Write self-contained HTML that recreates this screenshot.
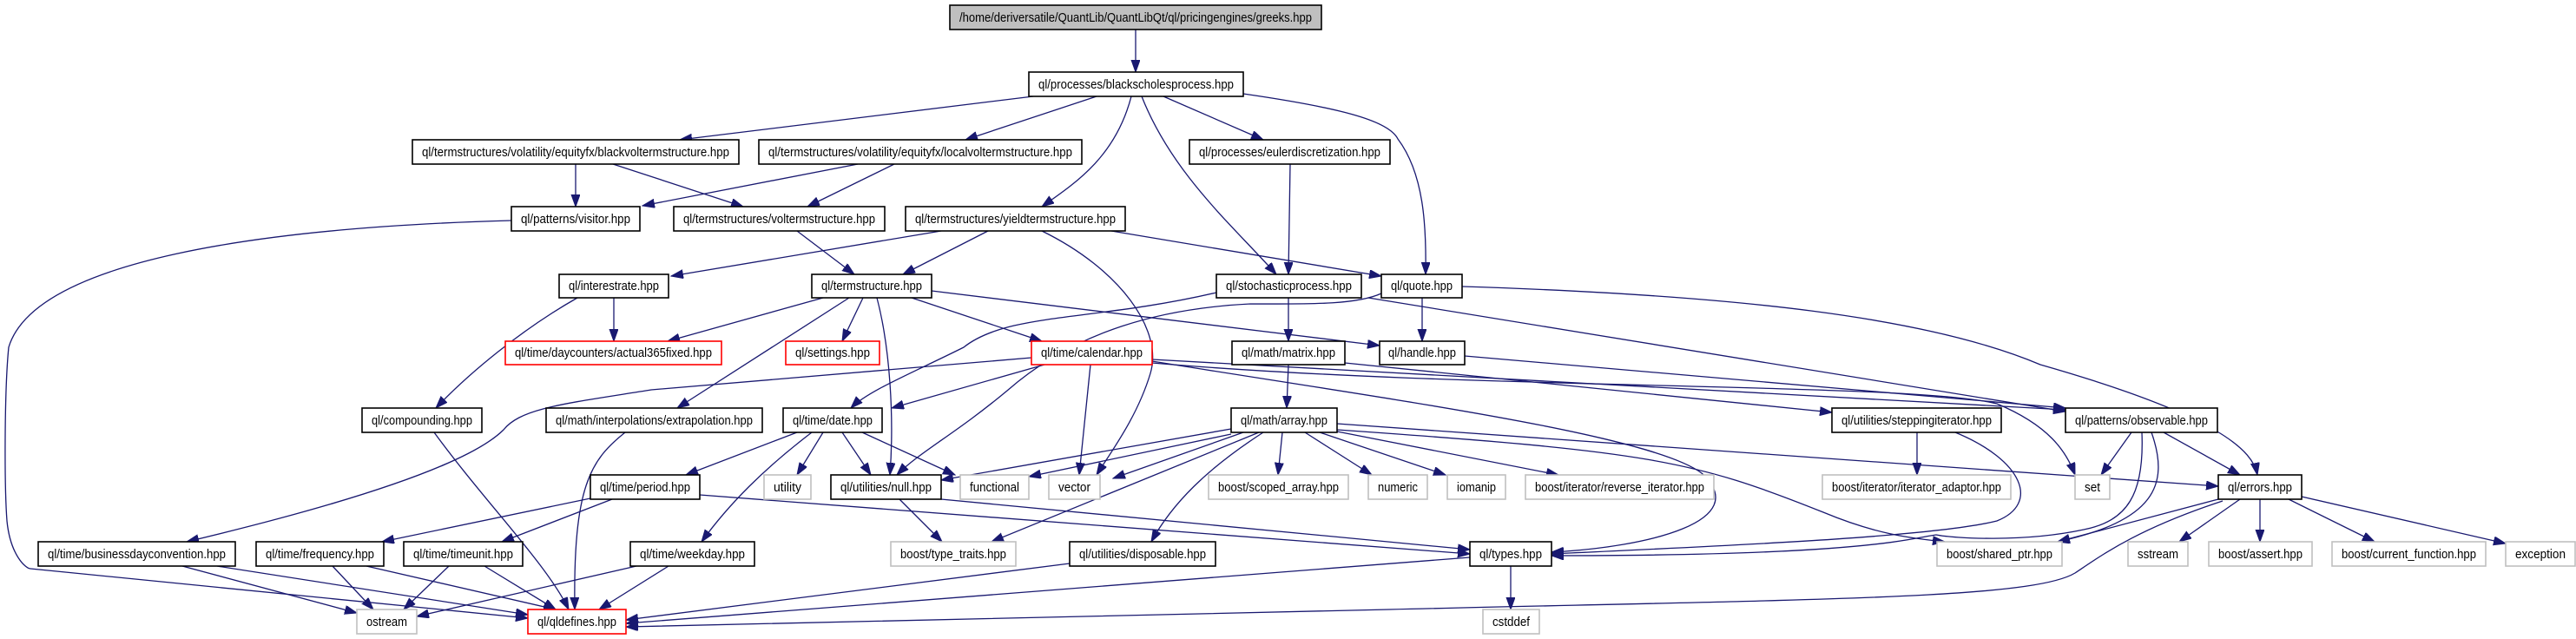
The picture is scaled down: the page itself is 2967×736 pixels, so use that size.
<!DOCTYPE html>
<html><head><meta charset="utf-8">
<style>
html,body{margin:0;padding:0;background:#fff;}
svg{display:block;}
text{font-family:"Liberation Sans",sans-serif;font-size:15px;fill:#000;}
.n{fill:#fff;stroke:#000;stroke-width:1.6;}
.r{fill:#fff;stroke:#ff0000;stroke-width:1.6;}
.g{fill:#fff;stroke:#bfbfbf;stroke-width:1.6;}
.e{fill:none;stroke:#191970;stroke-width:1.3;marker-end:url(#a);}
</style></head>
<body>
<svg width="2967" height="736" viewBox="0 0 2967 736" xmlns="http://www.w3.org/2000/svg">
<defs>
<marker id="a" markerWidth="15" markerHeight="11" refX="14" refY="5" orient="auto" markerUnits="userSpaceOnUse">
<path d="M0,0 L14,5 L0,10 Z" fill="#191970" stroke="#191970"/>
</marker>
</defs>

<path class="e" d="M1308,34 L1308,83"/>
<path class="e" d="M1190,111 L783,161"/>
<path class="e" d="M1263,111 L1112,161"/>
<path class="e" d="M1303,111 C1285,180 1240,210 1200,238"/>
<path class="e" d="M1315,111 C1350,200 1420,260 1470,316"/>
<path class="e" d="M1340,111 L1455,161"/>
<path class="e" d="M1432,108 C1550,125 1600,140 1610,160 C1640,200 1643,260 1642,316"/>
<path class="e" d="M663,189 L663,238"/>
<path class="e" d="M706,189 L856,238"/>
<path class="e" d="M988,189 L740,237"/>
<path class="e" d="M1030,189 L930,238"/>
<path class="e" d="M1486,189 L1484,316"/>
<path class="e" d="M589,254 C300,262 40,300 10,400 C5,450 5,560 8,600 C12,640 30,655 35,655 L608,712"/>
<path class="e" d="M918,266 L984,316"/>
<path class="e" d="M1084,266 L773,318"/>
<path class="e" d="M1138,266 L1040,316"/>
<path class="e" d="M1200,266 C1290,310 1340,380 1325,430 C1310,480 1280,520 1263,547"/>
<path class="e" d="M1280,266 L1591,318"/>
<path class="e" d="M948,343 L769,393"/>
<path class="e" d="M978,343 L780,470"/>
<path class="e" d="M994,343 L970,393"/>
<path class="e" d="M1010,343 C1025,400 1030,480 1025,547"/>
<path class="e" d="M1050,343 L1200,393"/>
<path class="e" d="M1073,335 L1589,398"/>
<path class="e" d="M1401,337 C1260,370 1160,360 1110,400 C1050,430 1000,450 980,470"/>
<path class="e" d="M1591,338 C1560,352 1500,350 1440,350 C1340,355 1240,380 1160,450 C1100,500 1060,520 1033,547"/>
<path class="e" d="M1484,343 L1484,393"/>
<path class="e" d="M1576,343 L2379,474"/>
<path class="e" d="M1638,343 L1638,393"/>
<path class="e" d="M1684,330 C2000,340 2220,365 2350,420 C2560,480 2595,520 2600,547"/>
<path class="e" d="M707,343 L707,393"/>
<path class="e" d="M665,343 C600,380 540,430 502,470"/>
<path class="e" d="M500,498 C560,580 630,650 655,702"/>
<path class="e" d="M720,498 C680,530 660,560 662,702"/>
<path class="e" d="M1188,412 L750,449 C650,465 600,470 580,495 C540,535 400,580 215,624"/>
<path class="e" d="M1203,420 L1027,470"/>
<path class="e" d="M1256,420 L1243,547"/>
<path class="e" d="M1327,414 L2379,472"/>
<path class="e" d="M1327,418 C1700,450 2200,440 2300,465 C2360,490 2380,520 2390,547"/>
<path class="e" d="M1327,416 C1600,460 1900,500 1960,545 C2020,600 1900,630 1787,636"/>
<path class="e" d="M1549,418 L2110,475"/>
<path class="e" d="M1687,410 L2379,470"/>
<path class="e" d="M1484,420 L1482,470"/>
<path class="e" d="M918,498 L790,547"/>
<path class="e" d="M935,498 C880,540 840,580 808,624"/>
<path class="e" d="M948,498 L918,547"/>
<path class="e" d="M970,498 L1003,547"/>
<path class="e" d="M993,498 L1100,547"/>
<path class="e" d="M1418,494 L1084,553"/>
<path class="e" d="M1418,500 L1185,549"/>
<path class="e" d="M1432,498 L1282,551"/>
<path class="e" d="M1450,498 L1142,624"/>
<path class="e" d="M1455,498 C1390,540 1350,580 1326,624"/>
<path class="e" d="M1477,498 L1472,547"/>
<path class="e" d="M1503,498 L1580,547"/>
<path class="e" d="M1520,498 L1665,547"/>
<path class="e" d="M1540,497 L1795,547"/>
<path class="e" d="M1540,488 L2555,560"/>
<path class="e" d="M1540,495 C1900,520 1950,530 2100,590 C2160,615 2200,620 2240,624"/>
<path class="e" d="M1036,575 L1085,624"/>
<path class="e" d="M1084,575 L1693,633"/>
<path class="e" d="M680,574 L440,624"/>
<path class="e" d="M705,575 L578,624"/>
<path class="e" d="M806,570 L1693,638"/>
<path class="e" d="M210,652 L411,706"/>
<path class="e" d="M250,652 L608,708"/>
<path class="e" d="M383,652 L430,702"/>
<path class="e" d="M422,652 L640,702"/>
<path class="e" d="M517,652 L465,702"/>
<path class="e" d="M558,652 L640,702"/>
<path class="e" d="M733,652 L480,710"/>
<path class="e" d="M770,652 L690,702"/>
<path class="e" d="M1232,649 L721,714"/>
<path class="e" d="M1693,642 L721,718"/>
<path class="e" d="M2560,577 C2460,610 2420,640 2390,660 C2340,690 2100,690 1600,702 L721,722"/>
<path class="e" d="M1740,652 L1740,702"/>
<path class="e" d="M2208,498 L2208,547"/>
<path class="e" d="M2252,498 C2330,530 2350,580 2300,600 C2220,620 1950,630 1787,638"/>
<path class="e" d="M2455,498 L2420,547"/>
<path class="e" d="M2467,498 C2470,570 2450,600 2400,610 C2330,625 2250,620 2230,616 C2200,620 2150,640 1787,640"/>
<path class="e" d="M2478,498 C2500,560 2480,600 2370,624"/>
<path class="e" d="M2492,498 L2580,547"/>
<path class="e" d="M2555,575 L2370,624"/>
<path class="e" d="M2580,575 L2510,624"/>
<path class="e" d="M2603,575 L2603,624"/>
<path class="e" d="M2636,575 L2735,624"/>
<path class="e" d="M2651,572 L2886,626"/>

<rect x="1094" y="6" width="428" height="28" fill="#bfbfbf" stroke="#000" stroke-width="1.6"/><text x="1308" y="25" text-anchor="middle" textLength="406" lengthAdjust="spacingAndGlyphs">/home/deriversatile/QuantLib/QuantLibQt/ql/pricingengines/greeks.hpp</text>
<rect class="n" x="1185" y="83" width="247" height="28"/><text x="1308.5" y="102" text-anchor="middle" textLength="225" lengthAdjust="spacingAndGlyphs">ql/processes/blackscholesprocess.hpp</text>
<rect class="n" x="475" y="161" width="376" height="28"/><text x="663" y="180" text-anchor="middle" textLength="354" lengthAdjust="spacingAndGlyphs">ql/termstructures/volatility/equityfx/blackvoltermstructure.hpp</text>
<rect class="n" x="874" y="161" width="372" height="28"/><text x="1060" y="180" text-anchor="middle" textLength="350" lengthAdjust="spacingAndGlyphs">ql/termstructures/volatility/equityfx/localvoltermstructure.hpp</text>
<rect class="n" x="1370" y="161" width="231" height="28"/><text x="1485.5" y="180" text-anchor="middle" textLength="209" lengthAdjust="spacingAndGlyphs">ql/processes/eulerdiscretization.hpp</text>
<rect class="n" x="589" y="238" width="148" height="28"/><text x="663" y="257" text-anchor="middle" textLength="126" lengthAdjust="spacingAndGlyphs">ql/patterns/visitor.hpp</text>
<rect class="n" x="776" y="238" width="243" height="28"/><text x="897.5" y="257" text-anchor="middle" textLength="221" lengthAdjust="spacingAndGlyphs">ql/termstructures/voltermstructure.hpp</text>
<rect class="n" x="1043" y="238" width="253" height="28"/><text x="1169.5" y="257" text-anchor="middle" textLength="231" lengthAdjust="spacingAndGlyphs">ql/termstructures/yieldtermstructure.hpp</text>
<rect class="n" x="644" y="316" width="126" height="27"/><text x="707" y="334" text-anchor="middle" textLength="104" lengthAdjust="spacingAndGlyphs">ql/interestrate.hpp</text>
<rect class="n" x="935" y="316" width="138" height="27"/><text x="1004" y="334" text-anchor="middle" textLength="116" lengthAdjust="spacingAndGlyphs">ql/termstructure.hpp</text>
<rect class="n" x="1401" y="316" width="167" height="27"/><text x="1484.5" y="334" text-anchor="middle" textLength="145" lengthAdjust="spacingAndGlyphs">ql/stochasticprocess.hpp</text>
<rect class="n" x="1591" y="316" width="93" height="27"/><text x="1637.5" y="334" text-anchor="middle" textLength="71" lengthAdjust="spacingAndGlyphs">ql/quote.hpp</text>
<rect class="r" x="582" y="393" width="249" height="27"/><text x="706.5" y="411" text-anchor="middle" textLength="227" lengthAdjust="spacingAndGlyphs">ql/time/daycounters/actual365fixed.hpp</text>
<rect class="r" x="905" y="393" width="108" height="27"/><text x="959" y="411" text-anchor="middle" textLength="86" lengthAdjust="spacingAndGlyphs">ql/settings.hpp</text>
<rect class="r" x="1188" y="393" width="139" height="27"/><text x="1257.5" y="411" text-anchor="middle" textLength="117" lengthAdjust="spacingAndGlyphs">ql/time/calendar.hpp</text>
<rect class="n" x="1419" y="393" width="130" height="27"/><text x="1484" y="411" text-anchor="middle" textLength="108" lengthAdjust="spacingAndGlyphs">ql/math/matrix.hpp</text>
<rect class="n" x="1589" y="393" width="98" height="27"/><text x="1638" y="411" text-anchor="middle" textLength="78" lengthAdjust="spacingAndGlyphs">ql/handle.hpp</text>
<rect class="n" x="417" y="470" width="138" height="28"/><text x="486" y="489" text-anchor="middle" textLength="116" lengthAdjust="spacingAndGlyphs">ql/compounding.hpp</text>
<rect class="n" x="629" y="470" width="249" height="28"/><text x="753.5" y="489" text-anchor="middle" textLength="227" lengthAdjust="spacingAndGlyphs">ql/math/interpolations/extrapolation.hpp</text>
<rect class="n" x="902" y="470" width="114" height="28"/><text x="959" y="489" text-anchor="middle" textLength="92" lengthAdjust="spacingAndGlyphs">ql/time/date.hpp</text>
<rect class="n" x="1418" y="470" width="122" height="28"/><text x="1479" y="489" text-anchor="middle" textLength="100" lengthAdjust="spacingAndGlyphs">ql/math/array.hpp</text>
<rect class="n" x="2110" y="470" width="195" height="28"/><text x="2207.5" y="489" text-anchor="middle" textLength="173" lengthAdjust="spacingAndGlyphs">ql/utilities/steppingiterator.hpp</text>
<rect class="n" x="2379" y="470" width="175" height="28"/><text x="2466.5" y="489" text-anchor="middle" textLength="153" lengthAdjust="spacingAndGlyphs">ql/patterns/observable.hpp</text>
<rect class="n" x="680" y="547" width="126" height="28"/><text x="743" y="566" text-anchor="middle" textLength="104" lengthAdjust="spacingAndGlyphs">ql/time/period.hpp</text>
<rect class="g" x="880" y="547" width="54" height="28"/><text x="907" y="566" text-anchor="middle" textLength="32" lengthAdjust="spacingAndGlyphs">utility</text>
<rect class="n" x="957" y="547" width="127" height="28"/><text x="1020.5" y="566" text-anchor="middle" textLength="105" lengthAdjust="spacingAndGlyphs">ql/utilities/null.hpp</text>
<rect class="g" x="1106" y="547" width="79" height="28"/><text x="1145.5" y="566" text-anchor="middle" textLength="57" lengthAdjust="spacingAndGlyphs">functional</text>
<rect class="g" x="1208" y="547" width="59" height="28"/><text x="1237.5" y="566" text-anchor="middle" textLength="37" lengthAdjust="spacingAndGlyphs">vector</text>
<rect class="g" x="1392" y="547" width="161" height="28"/><text x="1472.5" y="566" text-anchor="middle" textLength="139" lengthAdjust="spacingAndGlyphs">boost/scoped_array.hpp</text>
<rect class="g" x="1576" y="547" width="68" height="28"/><text x="1610" y="566" text-anchor="middle" textLength="46" lengthAdjust="spacingAndGlyphs">numeric</text>
<rect class="g" x="1667" y="547" width="67" height="28"/><text x="1700.5" y="566" text-anchor="middle" textLength="45" lengthAdjust="spacingAndGlyphs">iomanip</text>
<rect class="g" x="1757" y="547" width="217" height="28"/><text x="1865.5" y="566" text-anchor="middle" textLength="195" lengthAdjust="spacingAndGlyphs">boost/iterator/reverse_iterator.hpp</text>
<rect class="g" x="2099" y="547" width="217" height="28"/><text x="2207.5" y="566" text-anchor="middle" textLength="195" lengthAdjust="spacingAndGlyphs">boost/iterator/iterator_adaptor.hpp</text>
<rect class="g" x="2390" y="547" width="40" height="28"/><text x="2410" y="566" text-anchor="middle" textLength="18" lengthAdjust="spacingAndGlyphs">set</text>
<rect class="n" x="2555" y="547" width="96" height="28"/><text x="2603" y="566" text-anchor="middle" textLength="74" lengthAdjust="spacingAndGlyphs">ql/errors.hpp</text>
<rect class="n" x="44" y="624" width="227" height="28"/><text x="157.5" y="643" text-anchor="middle" textLength="205" lengthAdjust="spacingAndGlyphs">ql/time/businessdayconvention.hpp</text>
<rect class="n" x="295" y="624" width="147" height="28"/><text x="368.5" y="643" text-anchor="middle" textLength="125" lengthAdjust="spacingAndGlyphs">ql/time/frequency.hpp</text>
<rect class="n" x="465" y="624" width="137" height="28"/><text x="533.5" y="643" text-anchor="middle" textLength="115" lengthAdjust="spacingAndGlyphs">ql/time/timeunit.hpp</text>
<rect class="n" x="726" y="624" width="143" height="28"/><text x="797.5" y="643" text-anchor="middle" textLength="121" lengthAdjust="spacingAndGlyphs">ql/time/weekday.hpp</text>
<rect class="g" x="1026" y="624" width="144" height="28"/><text x="1098" y="643" text-anchor="middle" textLength="122" lengthAdjust="spacingAndGlyphs">boost/type_traits.hpp</text>
<rect class="n" x="1232" y="624" width="168" height="28"/><text x="1316" y="643" text-anchor="middle" textLength="146" lengthAdjust="spacingAndGlyphs">ql/utilities/disposable.hpp</text>
<rect class="n" x="1693" y="624" width="94" height="28"/><text x="1740" y="643" text-anchor="middle" textLength="72" lengthAdjust="spacingAndGlyphs">ql/types.hpp</text>
<rect class="g" x="2231" y="624" width="144" height="28"/><text x="2303" y="643" text-anchor="middle" textLength="122" lengthAdjust="spacingAndGlyphs">boost/shared_ptr.hpp</text>
<rect class="g" x="2451" y="624" width="69" height="28"/><text x="2485.5" y="643" text-anchor="middle" textLength="47" lengthAdjust="spacingAndGlyphs">sstream</text>
<rect class="g" x="2544" y="624" width="119" height="28"/><text x="2603.5" y="643" text-anchor="middle" textLength="97" lengthAdjust="spacingAndGlyphs">boost/assert.hpp</text>
<rect class="g" x="2686" y="624" width="177" height="28"/><text x="2774.5" y="643" text-anchor="middle" textLength="155" lengthAdjust="spacingAndGlyphs">boost/current_function.hpp</text>
<rect class="g" x="2886" y="624" width="80" height="28"/><text x="2926" y="643" text-anchor="middle" textLength="58" lengthAdjust="spacingAndGlyphs">exception</text>
<rect class="g" x="411" y="702" width="69" height="28"/><text x="445.5" y="721" text-anchor="middle" textLength="47" lengthAdjust="spacingAndGlyphs">ostream</text>
<rect class="r" x="608" y="702" width="113" height="28"/><text x="664.5" y="721" text-anchor="middle" textLength="91" lengthAdjust="spacingAndGlyphs">ql/qldefines.hpp</text>
<rect class="g" x="1708" y="702" width="65" height="28"/><text x="1740.5" y="721" text-anchor="middle" textLength="43" lengthAdjust="spacingAndGlyphs">cstddef</text>
</svg>
</body></html>
